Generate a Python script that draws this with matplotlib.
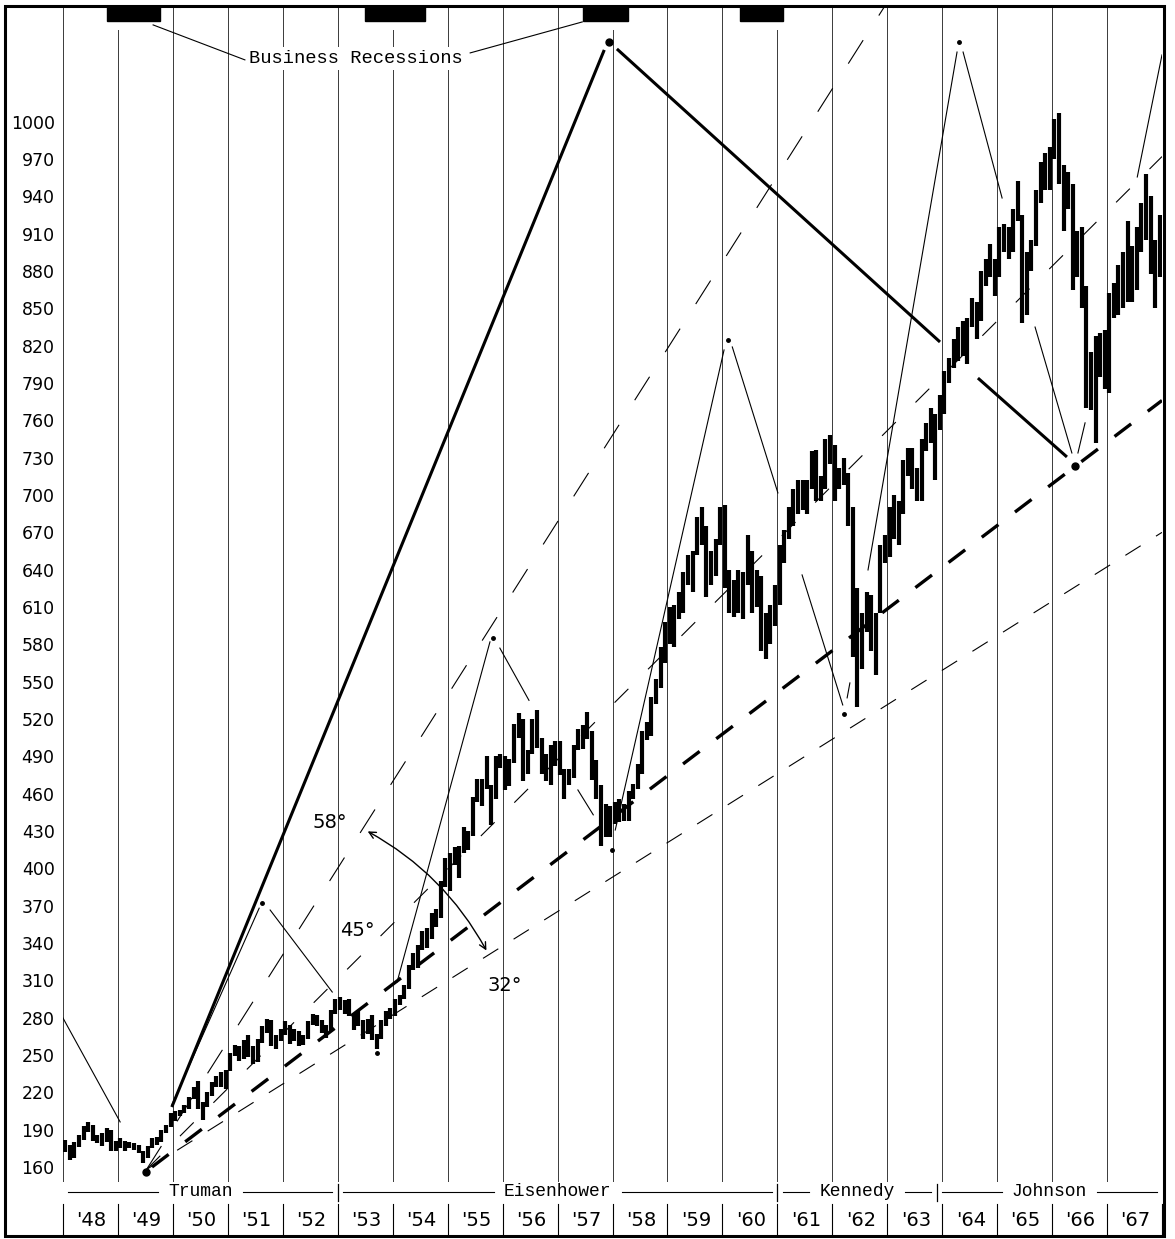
import matplotlib
matplotlib.use('Agg')
import matplotlib.pyplot as plt
from matplotlib.patches import Rectangle, FancyArrowPatch
from matplotlib.transforms import blended_transform_factory

plt.rcParams['lines.scale_dashes'] = False

# monthly high / low of the average (Jan..Dec)
h1948 = [182, 178, 180, 186, 193, 196, 194, 186, 187, 191, 190, 181]
l1948 = [172, 166, 167, 176, 182, 188, 181, 179, 177, 180, 173, 173]
h1949 = [183, 181, 180, 179, 178, 173, 177, 183, 184, 190, 194, 203]
l1949 = [175, 173, 175, 174, 171, 163, 167, 175, 178, 180, 187, 192]
h1950 = [205, 206, 210, 216, 224, 229, 212, 220, 228, 233, 236, 238]
l1950 = [197, 201, 203, 207, 215, 207, 198, 208, 217, 224, 224, 223]
h1951 = [252, 258, 257, 262, 266, 257, 263, 273, 279, 278, 266, 271]
l1951 = [237, 249, 245, 247, 248, 243, 244, 260, 268, 257, 255, 261]
h1952 = [277, 274, 271, 269, 266, 277, 283, 282, 278, 274, 286, 295]
l1952 = [266, 259, 261, 257, 258, 263, 274, 273, 268, 264, 269, 283]
h1953 = [297, 294, 295, 284, 285, 278, 279, 282, 267, 278, 285, 288]
l1953 = [286, 283, 281, 270, 273, 263, 267, 262, 255, 263, 273, 279]
h1954 = [295, 298, 306, 322, 332, 338, 350, 352, 364, 367, 390, 408]
l1954 = [281, 290, 295, 303, 318, 320, 334, 336, 343, 353, 360, 385]
h1955 = [412, 417, 418, 433, 430, 457, 472, 472, 490, 467, 490, 492]
l1955 = [382, 403, 392, 412, 415, 426, 453, 450, 464, 435, 456, 481]
h1956 = [490, 488, 516, 525, 520, 495, 520, 527, 505, 492, 499, 502]
l1956 = [463, 466, 485, 505, 470, 476, 492, 497, 476, 470, 467, 482]
h1957 = [502, 480, 480, 499, 512, 515, 526, 510, 487, 467, 452, 450]
l1957 = [475, 456, 467, 473, 495, 496, 504, 471, 456, 418, 425, 425]
h1958 = [453, 456, 452, 462, 468, 484, 510, 518, 538, 552, 578, 598]
l1958 = [436, 437, 438, 438, 456, 464, 476, 503, 506, 532, 545, 565]
h1959 = [610, 612, 622, 638, 652, 655, 682, 690, 675, 655, 665, 690]
l1959 = [580, 578, 600, 605, 628, 622, 652, 660, 618, 628, 635, 660]
h1960 = [692, 640, 632, 640, 638, 668, 655, 640, 635, 605, 612, 628]
l1960 = [625, 605, 602, 605, 600, 628, 605, 610, 575, 568, 580, 595]
h1961 = [660, 672, 690, 705, 712, 712, 712, 735, 736, 715, 745, 748]
l1961 = [612, 645, 665, 675, 685, 688, 685, 705, 695, 695, 705, 725]
h1962 = [740, 722, 730, 718, 690, 625, 605, 622, 620, 605, 660, 668]
l1962 = [695, 705, 708, 675, 570, 530, 560, 590, 575, 555, 605, 645]
h1963 = [690, 700, 695, 728, 738, 738, 722, 745, 758, 770, 765, 780]
l1963 = [650, 665, 660, 685, 715, 705, 695, 695, 735, 742, 712, 752]
h1964 = [800, 810, 825, 835, 840, 842, 858, 855, 880, 890, 902, 890]
l1964 = [765, 790, 802, 808, 812, 805, 835, 825, 840, 868, 875, 860]
h1965 = [915, 918, 915, 930, 952, 925, 895, 905, 945, 968, 975, 980]
l1965 = [875, 895, 890, 895, 920, 838, 845, 880, 900, 935, 945, 945]
h1966 = [1002, 1007, 965, 960, 950, 912, 915, 868, 815, 828, 830, 833]
l1966 = [970, 950, 912, 930, 865, 875, 850, 770, 768, 742, 795, 785]
h1967 = [862, 870, 885, 895, 920, 900, 915, 935, 958, 940, 905, 925]
l1967 = [782, 842, 845, 850, 855, 855, 865, 895, 905, 878, 850, 875]

years = list(range(1948, 1968))
highs = [h1948, h1949, h1950, h1951, h1952, h1953, h1954, h1955, h1956, h1957,
         h1958, h1959, h1960, h1961, h1962, h1963, h1964, h1965, h1966, h1967]
lows = [l1948, l1949, l1950, l1951, l1952, l1953, l1954, l1955, l1956, l1957,
        l1958, l1959, l1960, l1961, l1962, l1963, l1964, l1965, l1966, l1967]

# recessions (fractional years)
rec_start = [1948.80, 1953.50, 1957.46, 1960.32]
rec_end = [1949.77, 1954.59, 1958.28, 1961.10]

# presidents
presidents = ['Truman', 'Eisenhower', 'Kennedy', 'Johnson']
term_start = [1948.0, 1953.0, 1961.0, 1963.9]
term_end = [1953.0, 1961.0, 1963.9, 1968.0]

# trend lines drawn on the chart (year, value)
thin_lines = [
    [(1948.00, 279.7), (1949.04, 196.2)],
    [(1949.98, 209.8), (1951.57, 368.0)],
    [(1951.77, 366.5), (1952.90, 300.6)],
    [(1954.08, 308.7), (1955.77, 582.0)],
    [(1955.95, 577.0), (1956.48, 535.0)],
    [(1957.37, 463.0), (1957.65, 443.0)],
    [(1958.05, 430.8), (1960.03, 816.6)],
    [(1960.18, 819.0), (1961.01, 701.7)],
    [(1961.45, 635.8), (1962.19, 531.3)],
    [(1962.27, 537.0), (1962.32, 549.0)],
    [(1962.65, 639.8), (1964.27, 1056.0)],
    [(1964.38, 1056.0), (1965.09, 938.7)],
    [(1965.69, 835.0), (1966.36, 733.8)],
    [(1966.47, 733.8), (1966.60, 758.0)],
    [(1967.55, 955.6), (1968.00, 1053.7)],
]
thick_lines = [
    [(1949.98, 208.2), (1957.85, 1057.7)],
    [(1958.08, 1058.5), (1963.96, 823.0)],
    [(1964.65, 794.0), (1966.27, 730.6)],
]

# angle fan from the 1949 low
fan_origin = (1949.52, 158.0)
fan_58_end = (1963.10, 1103.0)
fan_45_end = (1968.0, 972.0)
fan_32_end = (1968.0, 670.0)
main_start = (1949.62, 160.0)
main_end = (1968.0, 776.0)

big_dots = [(1949.51, 156.0), (1957.94, 1064.0), (1966.42, 723.0)]
small_dots = [(1951.62, 372.0), (1953.72, 252.0), (1955.83, 585.0), (1957.99, 414.8),
              (1960.10, 824.6), (1962.21, 524.0), (1964.31, 1064.0)]

W, H = 1175, 1239
fig = plt.figure(figsize=(W / 100, H / 100), dpi=100)
ax = fig.add_axes([63 / W, 1 - 1182 / H, (1162 - 63) / W, (1182 - 6) / H])
ax.set_xlim(1948, 1968)
ax.set_ylim(147.94, 1093.0)
for s in ax.spines.values():
    s.set_visible(False)
ax.set_xticks([])
ax.set_yticks(range(160, 1001, 30))
ax.tick_params(axis='y', length=0, pad=6, labelsize=12.5)

# year lines
for yr in range(1948, 1969):
    ax.axvline(yr, color='#3a3a3a', lw=0.7, zorder=1)

# price bars
xs, hs, ls = [], [], []
for i, yr in enumerate(years):
    for m in range(12):
        xs.append(yr + (m + 0.5) / 12)
        hs.append(highs[i][m])
        ls.append(lows[i][m])
ax.vlines(xs, ls, hs, colors='black', lw=3.0, zorder=4)

# fan lines
ax.plot([fan_origin[0], fan_58_end[0]], [fan_origin[1], fan_58_end[1]],
        color='black', lw=0.8, dashes=(20, 21), zorder=3)
ax.plot([fan_origin[0], fan_45_end[0]], [fan_origin[1], fan_45_end[1]],
        color='black', lw=0.8, dashes=(14, 20), zorder=3)
ax.plot([fan_origin[0], fan_32_end[0]], [fan_origin[1], fan_32_end[1]],
        color='black', lw=0.8, dashes=(13, 13), zorder=3)
ax.plot([main_start[0], main_end[0]], [main_start[1], main_end[1]],
        color='black', lw=2.4, dashes=(15, 15), zorder=3)

for seg in thin_lines:
    ax.plot([seg[0][0], seg[1][0]], [seg[0][1], seg[1][1]], color='black', lw=0.8, zorder=3)
for seg in thick_lines:
    ax.plot([seg[0][0], seg[1][0]], [seg[0][1], seg[1][1]], color='black', lw=2.2,
            solid_capstyle='butt', zorder=3)

ax.plot([p[0] for p in big_dots], [p[1] for p in big_dots], 'o', color='black', ms=5, zorder=5)
ax.plot([p[0] for p in small_dots], [p[1] for p in small_dots], 'o', color='black', ms=2.5, zorder=5)

# angle labels + arc arrow
ax.text(1952.86, 437, '58°', fontsize=14, ha='center', va='center')
ax.text(1953.35, 350, '45°', fontsize=14, ha='center', va='center')
ax.text(1956.04, 306, '32°', fontsize=14, ha='center', va='center')
arc = FancyArrowPatch((1953.50, 430.8), (1955.73, 332.0), arrowstyle='<->',
                      connectionstyle='arc3,rad=-0.15', mutation_scale=12, lw=1.0,
                      color='black', zorder=5)
ax.add_patch(arc)

# recession bars at the top
tb = blended_transform_factory(ax.transData, ax.transAxes)
for a, b in zip(rec_start, rec_end):
    ax.add_patch(Rectangle((a - 0.08, 1 - 24 / 1176), b - a + 0.16, 24 / 1176,
                           transform=tb, facecolor='white', edgecolor='none', zorder=6))
    ax.add_patch(Rectangle((a, 1 - 15 / 1176), b - a, 15 / 1176, transform=tb,
                           facecolor='black', edgecolor='black', zorder=7))
ax.text(1953.33, 1051, 'Business Recessions', family='Liberation Mono', fontsize=13.5,
        ha='center', va='center', zorder=7,
        bbox=dict(facecolor='white', edgecolor='none', pad=2))
ax.plot([1949.64, 1951.31], [1077.8, 1049.7], color='black', lw=0.8, zorder=7)
ax.plot([1955.41, 1957.45], [1055.3, 1080.2], color='black', lw=0.8, zorder=7)

# bottom rows: presidents and years
tf = blended_transform_factory(ax.transData, fig.transFigure)
row_p = 1 - 1192 / H
cw = 10.83 * 20 / (1162 - 63)  # char width in years
for name, a, b in zip(presidents, term_start, term_end):
    mid = (a + b) / 2
    half = len(name) * cw / 2
    fig.text(mid, row_p, name, transform=tf, family='Liberation Mono', fontsize=13,
             ha='center', va='center')
    fig.add_artist(plt.Line2D([a + 0.1, mid - half - 0.18], [row_p, row_p], transform=tf,
                              color='black', lw=0.8))
    fig.add_artist(plt.Line2D([mid + half + 0.18, b - 0.1], [row_p, row_p], transform=tf,
                              color='black', lw=0.8))
for t in term_start[1:]:
    fig.add_artist(plt.Line2D([t, t], [1 - 1201 / H, 1 - 1184 / H], transform=tf,
                              color='black', lw=0.9))

for yr in range(1948, 1969):
    fig.add_artist(plt.Line2D([yr, yr], [1 - 1236 / H, 1 - 1204 / H], transform=tf,
                              color='black', lw=0.8))
for yr in years:
    fig.text(yr + 0.52, 1 - 1221 / H, "'" + str(yr)[2:], transform=tf, fontsize=14,
             ha='center', va='center')

# outer frame
fig.add_artist(Rectangle((5 / W, 1 - 1236 / H), (1164 - 5) / W, (1236 - 6) / H,
                         transform=fig.transFigure, fill=False, edgecolor='black', lw=2.2))

fig.savefig('out.png', dpi=100)
